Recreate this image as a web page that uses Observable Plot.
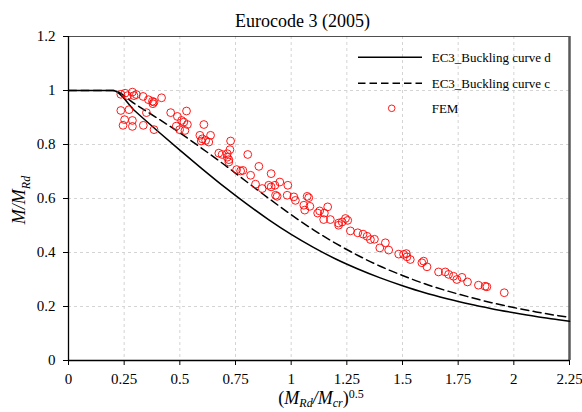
<!DOCTYPE html>
<html>
<head>
<meta charset="utf-8">
<script src="https://cdn.jsdelivr.net/npm/d3@7"></script>
<script src="https://cdn.jsdelivr.net/npm/@observablehq/plot@0.6"></script>
<style>
  body { margin: 0; background: #fff; }
  #chart { width: 582px; height: 412px; }
</style>
</head>
<body>
<div id="chart"></div>
<script>
// ---- data ----
const titleText = "Eurocode 3 (2005)";
const seriesNames = ["EC3_Buckling curve d", "EC3_Buckling curve c", "FEM"];

const lambda = [0, 0.2, 0.3, 0.4, 0.5, 0.6, 0.7, 0.8, 0.9, 1.0, 1.1, 1.2, 1.3, 1.4, 1.5, 1.6, 1.7, 1.8, 1.9, 2.0, 2.1, 2.2, 2.25];
const curveD = [1, 1, 0.923, 0.850, 0.779, 0.710, 0.643, 0.580, 0.521, 0.467, 0.419, 0.376, 0.339, 0.306, 0.277, 0.251, 0.229, 0.209, 0.192, 0.177, 0.163, 0.151, 0.145];
const curveC = [1, 1, 0.949, 0.897, 0.843, 0.785, 0.725, 0.662, 0.600, 0.540, 0.484, 0.434, 0.389, 0.349, 0.315, 0.284, 0.258, 0.235, 0.214, 0.196, 0.180, 0.166, 0.160];

const femX = [0.235, 0.254, 0.265, 0.287, 0.294, 0.305, 0.335, 0.359, 0.377, 0.384, 0.379, 0.418,
  0.235, 0.272, 0.252, 0.287, 0.245, 0.287, 0.336, 0.384, 0.350, 0.459, 0.489, 0.530, 0.508,
  0.518, 0.534, 0.484, 0.523, 0.499, 0.608, 0.590, 0.601, 0.616, 0.638, 0.630, 0.596, 0.728,
  0.675, 0.690, 0.713, 0.725, 0.720, 0.720, 0.713, 0.805, 0.755, 0.773, 0.783, 0.818, 0.855,
  0.840, 0.870, 0.910, 0.899, 0.910, 0.927, 0.949, 0.937, 0.985, 0.982, 0.930, 1.012, 1.019,
  1.072, 1.079, 1.057, 1.084, 1.061, 1.128, 1.119, 1.149, 1.164, 1.146, 1.176, 1.213, 1.213,
  1.229, 1.244, 1.254, 1.266, 1.299, 1.323, 1.341, 1.356, 1.374, 1.398, 1.423, 1.438, 1.483,
  1.505, 1.517, 1.520, 1.535, 1.587, 1.595, 1.610, 1.662, 1.692, 1.707, 1.729, 1.744, 1.767,
  1.792, 1.841, 1.871, 1.879, 1.957];
const femY = [0.986, 0.990, 0.981, 0.994, 0.981, 0.985, 0.978, 0.966, 0.960, 0.957, 0.951, 0.973,
  0.926, 0.929, 0.892, 0.889, 0.871, 0.867, 0.871, 0.855, 0.918, 0.918, 0.904, 0.924, 0.889,
  0.883, 0.874, 0.868, 0.852, 0.855, 0.874, 0.834, 0.821, 0.815, 0.834, 0.809, 0.813, 0.813,
  0.768, 0.763, 0.766, 0.781, 0.744, 0.735, 0.753, 0.763, 0.707, 0.702, 0.704, 0.686, 0.719,
  0.653, 0.637, 0.692, 0.649, 0.643, 0.649, 0.661, 0.608, 0.649, 0.612, 0.612, 0.606, 0.593,
  0.608, 0.603, 0.575, 0.571, 0.557, 0.554, 0.546, 0.546, 0.569, 0.522, 0.522, 0.509, 0.501,
  0.513, 0.526, 0.519, 0.480, 0.473, 0.468, 0.460, 0.448, 0.449, 0.417, 0.436, 0.409, 0.394,
  0.393, 0.396, 0.384, 0.374, 0.362, 0.368, 0.347, 0.328, 0.328, 0.319, 0.312, 0.300, 0.308,
  0.291, 0.279, 0.275, 0.273, 0.251];

const xTicks = [0, 0.25, 0.5, 0.75, 1, 1.25, 1.5, 1.75, 2, 2.25];
const xTickLabels = ["0", "0.25", "0.5", "0.75", "1", "1.25", "1.5", "1.75", "2", "2.25"];
const yTicks = [0, 0.2, 0.4, 0.6, 0.8, 1, 1.2];
const yTickLabels = ["0", "0.2", "0.4", "0.6", "0.8", "1", "1.2"];

// ---- tables built from arrays ----
const dRows = lambda.map((l, i) => ({l, v: curveD[i]}));
const cRows = lambda.map((l, i) => ({l, v: curveC[i]}));
const femRows = femX.map((x, i) => ({x, y: femY[i]}));

const FONT = "'Liberation Serif', 'Times New Roman', serif";

const plot = Plot.plot({
  width: 582,
  height: 412,
  marginLeft: 68,
  marginRight: 13,
  marginTop: 36,
  marginBottom: 52,
  style: {fontFamily: FONT, fontSize: "15px", color: "#000", background: "#fff", overflow: "visible"},
  x: {domain: [0, 2.25], ticks: xTicks, tickFormat: d => xTickLabels[xTicks.indexOf(d)], tickSize: 5, tickPadding: 8, label: null},
  y: {domain: [0, 1.2], ticks: yTicks, tickFormat: d => yTickLabels[yTicks.indexOf(d)], tickSize: 5, tickPadding: 8, label: null},
  marks: [
    Plot.ruleX(xTicks.slice(1, -1), {stroke: "#d4d4d4", strokeWidth: 1, strokeDasharray: "3,3"}),
    Plot.ruleY(yTicks.slice(1, -1), {stroke: "#d4d4d4", strokeWidth: 1, strokeDasharray: "3,3"}),
    Plot.ruleY([1.2], {stroke: "#222", strokeWidth: 0.8}),
    Plot.ruleX([2.25], {stroke: "#595959", strokeWidth: 2.5}),
    Plot.ruleX([0], {stroke: "#000", strokeWidth: 1.3}),
    Plot.ruleY([0], {stroke: "#000", strokeWidth: 1.3}),
    Plot.line(cRows, {x: "l", y: "v", stroke: "#000", strokeWidth: 1.5, strokeDasharray: "8,4.5", curve: "monotone-x"}),
    Plot.line(dRows, {x: "l", y: "v", stroke: "#000", strokeWidth: 1.5, curve: "monotone-x"}),
    Plot.dot(femRows, {x: "x", y: "y", r: 3.9, stroke: "#ff0000", strokeWidth: 0.9, fill: "none"})
  ]
});

document.getElementById("chart").appendChild(plot);

const svg = d3.select(plot);

// title
svg.append("text")
  .attr("x", 302.5).attr("y", 27)
  .attr("text-anchor", "middle")
  .attr("font-family", FONT).attr("font-size", 18).attr("fill", "#000")
  .text(titleText);

// y axis label: M/M_Rd
const yl = svg.append("text")
  .attr("transform", "translate(25,200) rotate(-90)")
  .attr("text-anchor", "middle")
  .attr("font-family", FONT).attr("font-size", 18).attr("fill", "#000")
  .attr("font-style", "italic");
yl.append("tspan").text("M/M");
yl.append("tspan").attr("dy", 5).attr("font-size", 12).text("Rd");

// x axis label: (M_Rd/M_cr)^0.5
const xl = svg.append("text")
  .attr("x", 321).attr("y", 404)
  .attr("text-anchor", "middle")
  .attr("font-family", FONT).attr("font-size", 18).attr("fill", "#000");
xl.append("tspan").text("(");
xl.append("tspan").attr("font-style", "italic").text("M");
xl.append("tspan").attr("font-style", "italic").attr("dy", 3).attr("font-size", 12).text("Rd");
xl.append("tspan").attr("font-style", "italic").attr("dy", -3).text("/M");
xl.append("tspan").attr("font-style", "italic").attr("dy", 3).attr("font-size", 12).text("cr");
xl.append("tspan").attr("dy", -3).text(")");
xl.append("tspan").attr("dy", -6).attr("font-size", 12).text("0.5");

// legend
const lg = svg.append("g").attr("font-family", FONT).attr("font-size", 13).attr("fill", "#000")
  .attr("text-anchor", "start");
const rows = [57.3, 83.3, 108.3];
lg.append("line").attr("x1", 358).attr("x2", 422).attr("y1", rows[0]).attr("y2", rows[0])
  .attr("stroke", "#000").attr("stroke-width", 1.5);
lg.append("line").attr("x1", 358).attr("x2", 422).attr("y1", rows[1]).attr("y2", rows[1])
  .attr("stroke", "#000").attr("stroke-width", 1.5).attr("stroke-dasharray", "7.5,4");
lg.append("circle").attr("cx", 391.7).attr("cy", rows[2]).attr("r", 3.3)
  .attr("fill", "none").attr("stroke", "#ff0000").attr("stroke-width", 0.9);
seriesNames.forEach((name, i) => {
  lg.append("text").attr("x", 431.7).attr("y", rows[i]).attr("dy", "0.34em")
    .attr("text-anchor", "start").text(name);
});
</script>
</body>
</html>
